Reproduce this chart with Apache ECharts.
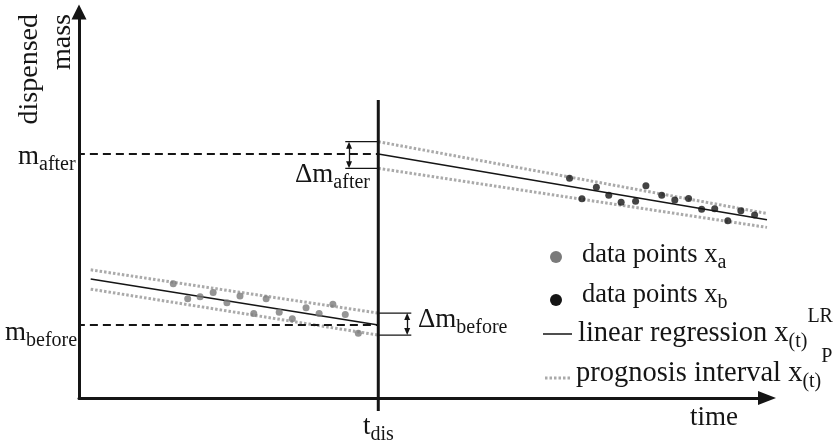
<!DOCTYPE html>
<html>
<head>
<meta charset="utf-8">
<title>Dispensed mass over time</title>
<script src="https://cdn.jsdelivr.net/npm/echarts@6/dist/echarts.min.js"></script>
<style>
  html, body { margin: 0; padding: 0; background: #ffffff; }
  #chart { width: 833px; height: 448px; }
</style>
</head>
<body>
<div id="chart"></div>
<script>
// ---- values (time and mass in arbitrary units) ----
const tDis = 43.5;                       // time of dispensing
const mAfter = 63.2;                     // regression value just after dispensing
const mBefore = 18.9;                    // regression value just before dispensing
const guideStart = -2.2;                 // dashed guides start slightly left of the mass axis
const tDisSpan = [77.2, -3.4];           // extent of the dispensing marker

// data points before dispensing (x_a)
const pointsA = [
  [13.7, 29.6], [15.8, 25.7], [17.6, 26.2], [19.5, 27.3], [21.5, 24.7],
  [23.4, 26.4], [25.4, 21.9], [27.2, 25.7], [29.1, 22.2], [31.0, 20.5],
  [33.0, 23.4], [34.9, 21.9], [36.9, 24.3], [38.7, 21.6], [40.6, 16.8]
];
// data points after dispensing (x_b)
const pointsB = [
  [71.3, 56.9], [73.1, 51.6], [75.2, 54.6], [77.0, 52.5], [78.8, 50.7],
  [80.9, 51.0], [82.4, 55.0], [84.7, 52.5], [86.6, 51.3], [88.6, 51.7],
  [90.5, 48.9], [92.4, 49.0], [94.3, 45.9], [96.2, 48.5], [98.2, 47.4]
];

// linear regression and prognosis interval, before dispensing
const regressionBefore = [[1.7, 30.8], [tDis, mBefore]];
const upperBefore = [[1.7, 33.2], [tDis, 22.0]];
const lowerBefore = [[1.7, 28.2], [tDis, 16.3]];
// linear regression and prognosis interval, after dispensing
const regressionAfter = [[tDis, mAfter], [100, 46.2]];
const upperAfter = [[tDis, 66.4], [100, 47.8]];
const lowerAfter = [[tDis, 59.5], [100, 44.2]];

// Δm brackets: time span of the ticks, arrow time, mass bounds
const bracketAfter = { t: [38.7, tDis], arrowT: 39.25, m: [59.5, 66.4] };
const bracketBefore = { t: [tDis, 48.3], arrowT: 47.7, m: [16.3, 22.0] };

// ---- styles ----
const INK = '#151515';
const GREY_PT = '#7a7a7a';
const GREY_DOT = '#aaaaaa';
const SERIF = '"Liberation Serif", "Times New Roman", serif';
const BIG = 27;
const SMALL = 20;

function lineSeries(data, style) {
  return {
    type: 'line', data: data, symbol: 'none', clip: false, silent: true,
    lineStyle: Object.assign({ color: INK, width: 1.5, cap: 'butt' }, style),
    z: style.z || 2
  };
}
const solid = { width: 1.5 };
const dotted = { color: GREY_DOT, width: 3, type: [2.5, 2], z: 1 };
const dashed = { width: 2, type: [8, 5] };
const thin = { width: 1.3 };

function bracketSeries(b) {
  const low = b.m[0], high = b.m[1];
  return [
    lineSeries([[b.t[0], low], [b.t[1], low]], thin),
    lineSeries([[b.t[0], high], [b.t[1], high]], thin),
    {
      type: 'line', data: [], silent: true,
      markLine: {
        silent: true, animation: false,
        symbol: ['triangle', 'triangle'], symbolSize: [6, 7],
        label: { show: false },
        lineStyle: { color: INK, width: 1.3, type: 'solid' },
        data: [[{ coord: [b.arrowT, low + 0.9] }, { coord: [b.arrowT, high - 0.9] }]]
      }
    }
  ];
}

function rich(parts, x, y, big) {
  const size = big || BIG;
  return {
    type: 'text', x: x, y: y, silent: true,
    style: {
      text: parts, textAlign: 'left', verticalAlign: 'middle', fill: INK,
      rich: {
        b: { fontSize: size, fontFamily: SERIF, fill: INK },
        s: { fontSize: SMALL, fontFamily: SERIF, fill: INK, padding: [16, 0, 0, 0] },
        sup: { fontSize: SMALL, fontFamily: SERIF, fill: INK, padding: [0, 0, 34, 0] }
      }
    }
  };
}

const chart = echarts.init(document.getElementById('chart'), null, { renderer: 'canvas' });

const axisCommon = {
  type: 'value',
  splitLine: { show: false },
  axisTick: { show: false },
  axisLabel: { show: false }
};

chart.setOption({
  animation: false,
  backgroundColor: '#ffffff',
  grid: { left: 79, right: 66, top: 12, bottom: 50 },
  xAxis: Object.assign({}, axisCommon, {
    min: 0, max: 100,
    axisLine: { show: true, symbol: ['none', 'triangle'], symbolSize: [14, 18],
      lineStyle: { color: INK, width: 3 } }
  }),
  yAxis: Object.assign({}, axisCommon, {
    min: 0, max: 100,
    axisLine: { show: true, symbol: ['none', 'triangle'], symbolSize: [15, 15],
      lineStyle: { color: INK, width: 3 } }
  }),
  series: [
    lineSeries([[guideStart, mAfter], [tDis, mAfter]], dashed),
    lineSeries([[guideStart, mBefore], [tDis, mBefore]], dashed),
    lineSeries(upperBefore, dotted),
    lineSeries(lowerBefore, dotted),
    lineSeries(upperAfter, dotted),
    lineSeries(lowerAfter, dotted),
    lineSeries(regressionBefore, solid),
    lineSeries(regressionAfter, solid),
    lineSeries([[tDis, tDisSpan[0]], [tDis, tDisSpan[1]]], { width: 3, z: 3 }),
    ...bracketSeries(bracketAfter),
    ...bracketSeries(bracketBefore),
    { type: 'scatter', data: pointsA, symbol: 'circle', symbolSize: 7, silent: true,
      itemStyle: { color: GREY_PT }, z: 4 },
    { type: 'scatter', data: pointsB, symbol: 'circle', symbolSize: 7, silent: true,
      itemStyle: { color: INK }, z: 4 }
  ],
  graphic: [
    // mass axis title
    {
      type: 'text', x: 13, y: 14, rotation: Math.PI / 2, silent: true,
      style: {
        text: 'dispensed\nmass', fontSize: 28, fontFamily: SERIF, fill: INK,
        lineHeight: 33, textAlign: 'right', verticalAlign: 'top'
      }
    },
    // time axis title
    {
      type: 'text', x: 714, y: 418, silent: true,
      style: { text: 'time', fontSize: BIG, fontFamily: SERIF, fill: INK,
        textAlign: 'center', verticalAlign: 'middle' }
    },
    rich('{b|m}{s|after}', 18, 157),
    rich('{b|m}{s|before}', 5, 333),
    rich('{b|Δm}{s|after}', 295, 175),
    rich('{b|Δm}{s|before}', 418, 320),
    rich('{b|t}{s|dis}', 363, 427),
    // legend
    { type: 'circle', shape: { cx: 556, cy: 257, r: 6 }, style: { fill: GREY_PT }, silent: true },
    { type: 'circle', shape: { cx: 556, cy: 300, r: 6 }, style: { fill: INK }, silent: true },
    { type: 'line', shape: { x1: 543, y1: 334, x2: 572, y2: 334 },
      style: { stroke: INK, lineWidth: 1.5 }, silent: true },
    { type: 'line', shape: { x1: 545, y1: 378, x2: 572, y2: 378 },
      style: { stroke: GREY_DOT, lineWidth: 3, lineDash: [2.5, 2] }, silent: true },
    rich('{b|data points x}{s|a}', 582, 255, 26.5),
    rich('{b|data points x}{s|b}', 582, 295, 26.5),
    rich('{b|linear regression x}{s|(t)}{sup|LR}', 578, 334, 28.5),
    rich('{b|prognosis interval x}{s|(t)}{sup|P}', 576, 374, 28.5)
  ]
});
</script>
</body>
</html>
